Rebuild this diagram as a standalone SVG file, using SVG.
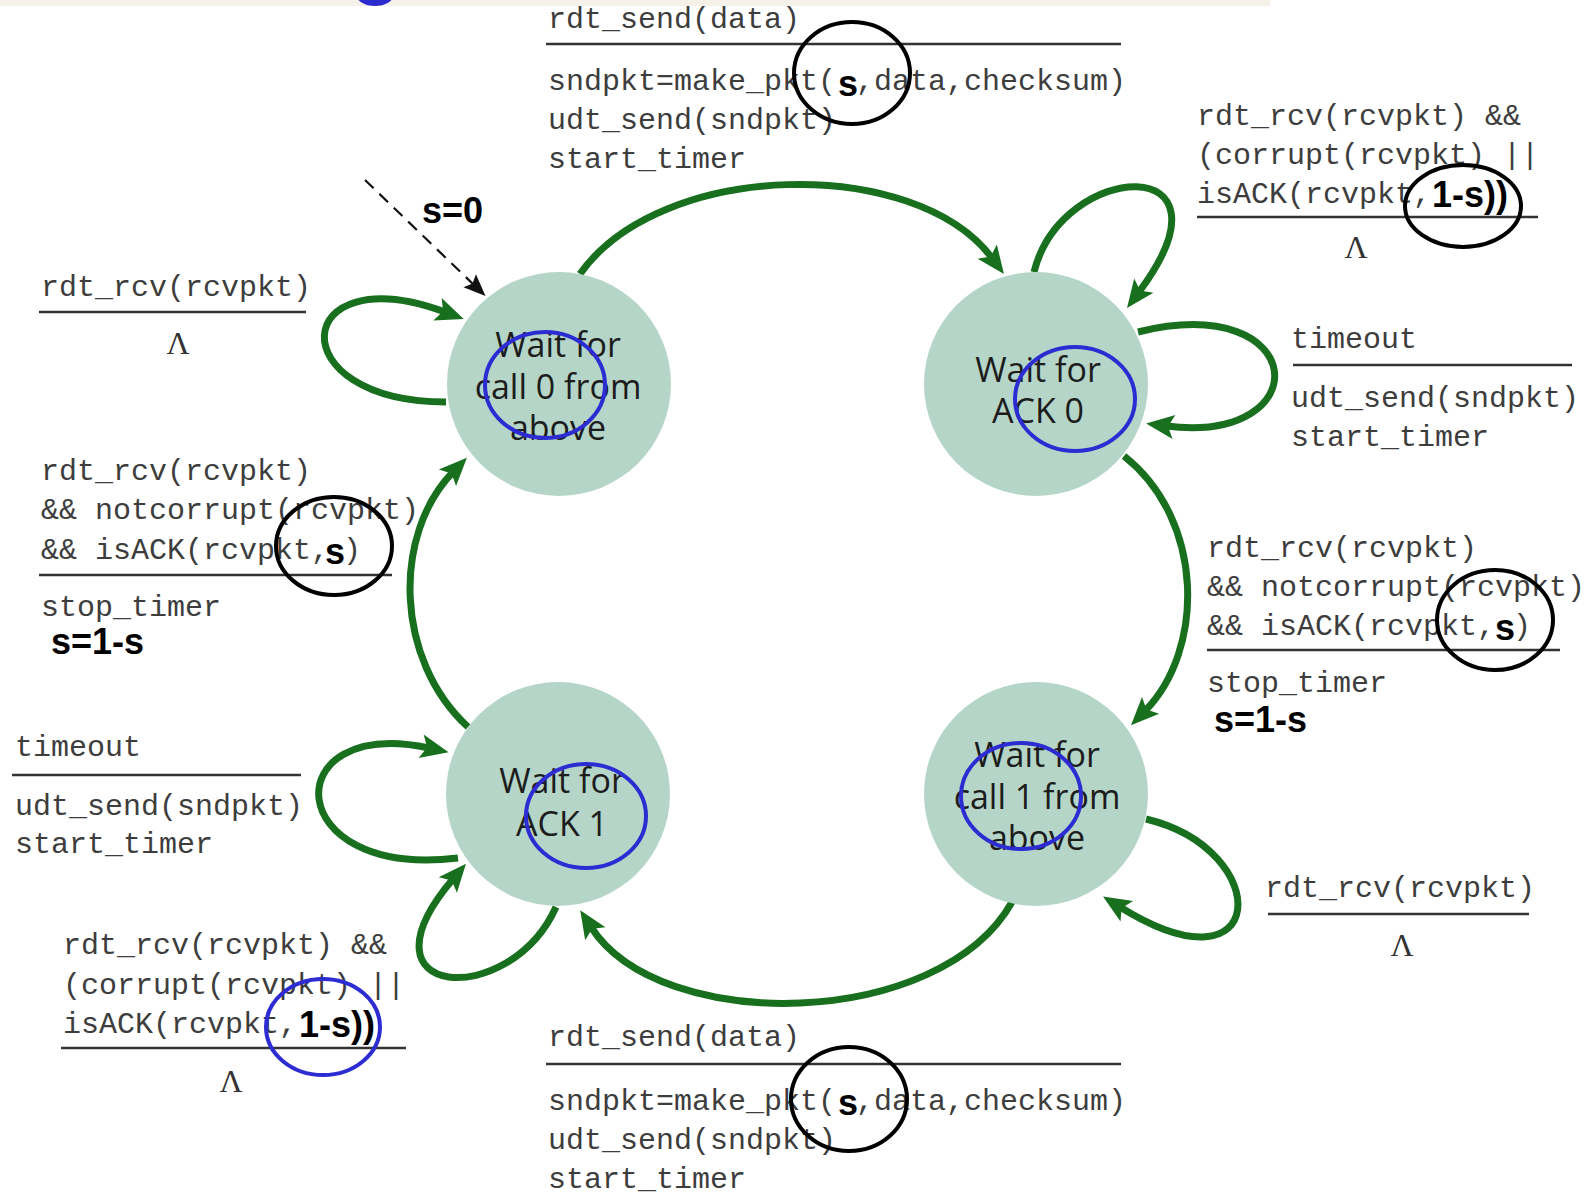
<svg xmlns="http://www.w3.org/2000/svg" width="1590" height="1194" viewBox="0 0 1590 1194">
  <style>
    .mono { font-family: "Liberation Mono", "Courier New", monospace; font-size: 30px; fill: #3d3d3d; }
    .bold { font-family: "Liberation Sans", Arial, sans-serif; font-weight: bold; font-size: 36px; fill: #000; }
    .lam { font-family: "Liberation Serif", "Times New Roman", serif; font-size: 32px; fill: #333; text-anchor: middle; }
    .rule { stroke: #333; stroke-width: 2.5; }
    .state { fill: #b4d5c7; }
    .state-text { font-family: "Open Sans", "Noto Sans", sans-serif; font-size: 34px; fill: #1c1c1c; text-anchor: middle; }
    .edge { fill: none; stroke: #18701f; stroke-width: 7; marker-end: url(#arrow); }
    .init { fill: none; stroke: #111; stroke-width: 2.2; stroke-dasharray: 12 8; marker-end: url(#arrow-init); }
    .mark-black { fill: none; stroke: #000; stroke-width: 4; }
    .mark-blue { fill: none; stroke: #2c2cd2; stroke-width: 4; }
  </style>
  <defs>
    <marker id="arrow" markerUnits="userSpaceOnUse" markerWidth="30" markerHeight="26" refX="8" refY="12" orient="auto" overflow="visible">
      <path d="M0,0 L28,12 L0,24 L6,12 z" fill="#18701f"/>
    </marker>
    <marker id="arrow-init" markerUnits="userSpaceOnUse" markerWidth="24" markerHeight="20" refX="6" refY="9" orient="auto" overflow="visible">
      <path d="M0,0 L22,9 L0,18 L4,9 z" fill="#111"/>
    </marker>
  </defs>

  <rect x="0" y="0" width="1590" height="1194" fill="#fff"/>
  <!-- header strip remnant -->
  <rect x="0" y="0" width="1270" height="6" fill="#f6f1e8"/>
  <ellipse cx="375" cy="-6" rx="19" ry="12" fill="#2b2bd0"/>

  <!-- transitions -->
  <g id="connectors">
    <path class="edge" d="M580 274 C660 160 915 155 992 258"/>
    <path class="edge" d="M1124 456 C1205 520 1205 650 1145 711"/>
    <path class="edge" d="M1012 902 C940 1030 660 1035 591 927"/>
    <path class="edge" d="M468 727 C395 660 392 535 453 472"/>
    <path class="edge" d="M446 402 C278 402 290 255 445 312"/>
    <path class="edge" d="M1034 272 C1062 160 1245 150 1139 292"/>
    <path class="edge" d="M1138 332 C1310 290 1320 445 1166 426"/>
    <path class="edge" d="M458 858 C280 880 275 715 429 748"/>
    <path class="edge" d="M556 907 C510 1010 350 1000 453 879"/>
    <path class="edge" d="M1146 819 C1275 850 1270 1000 1120 907"/>
    <path class="init" d="M365 180 L474 285"/>
  </g>

  <!-- states -->
  <g id="wait-call0">
    <circle class="state" cx="559" cy="384" r="112"/>
    <text class="state-text" x="558" y="357">Wait for</text>
    <text class="state-text" x="558" y="399">call 0 from</text>
    <text class="state-text" x="558" y="440">above</text>
  </g>
  <g id="wait-ack0">
    <circle class="state" cx="1036" cy="384" r="112"/>
    <text class="state-text" x="1038" y="382">Wait for</text>
    <text class="state-text" x="1038" y="423">ACK 0</text>
  </g>
  <g id="wait-ack1">
    <circle class="state" cx="558" cy="794" r="112"/>
    <text class="state-text" x="562" y="793">Wait for</text>
    <text class="state-text" x="562" y="836">ACK 1</text>
  </g>
  <g id="wait-call1">
    <circle class="state" cx="1036" cy="794" r="112"/>
    <text class="state-text" x="1037" y="767">Wait for</text>
    <text class="state-text" x="1037" y="809">call 1 from</text>
    <text class="state-text" x="1037" y="850">above</text>
  </g>

  <!-- transition labels -->
  <g id="label-send0">
    <text class="mono" x="548" y="28">rdt_send(data)</text>
    <line class="rule" x1="546" y1="44" x2="1121" y2="44"/>
    <text class="mono" x="548" y="90">sndpkt=make_pkt(</text>
    <text class="bold" x="838" y="96">s</text>
    <text class="mono" x="856" y="90">,data,checksum)</text>
    <text class="mono" x="548" y="129">udt_send(sndpkt)</text>
    <text class="mono" x="548" y="168">start_timer</text>
  </g>
  <g id="label-ack0-wrong">
    <text class="mono" x="1197" y="125">rdt_rcv(rcvpkt) &amp;&amp;</text>
    <text class="mono" x="1197" y="164">(corrupt(rcvpkt) ||</text>
    <text class="mono" x="1197" y="203">isACK(rcvpkt,</text>
    <text class="bold" x="1432" y="207">1-s))</text>
    <line class="rule" x1="1197" y1="217" x2="1538" y2="217"/>
    <text class="lam" x="1356" y="258">Λ</text>
  </g>
  <g id="label-call0-rcv">
    <text class="mono" x="41" y="296">rdt_rcv(rcvpkt)</text>
    <line class="rule" x1="39" y1="312" x2="306" y2="312"/>
    <text class="lam" x="178" y="354">Λ</text>
  </g>
  <g id="label-init">
    <text class="bold" x="422" y="223">s=0</text>
  </g>
  <g id="label-ack1-ok">
    <text class="mono" x="41" y="480">rdt_rcv(rcvpkt)</text>
    <text class="mono" x="41" y="519">&amp;&amp; notcorrupt(rcvpkt)</text>
    <text class="mono" x="41" y="559">&amp;&amp; isACK(rcvpkt,</text>
    <text class="bold" x="325" y="564">s</text>
    <text class="mono" x="343" y="559">)</text>
    <line class="rule" x1="39" y1="575" x2="392" y2="575"/>
    <text class="mono" x="41" y="616">stop_timer</text>
    <text class="bold" x="51" y="654">s=1-s</text>
  </g>
  <g id="label-ack1-timeout">
    <text class="mono" x="15" y="756">timeout</text>
    <line class="rule" x1="12" y1="775" x2="301" y2="775"/>
    <text class="mono" x="15" y="815">udt_send(sndpkt)</text>
    <text class="mono" x="15" y="853">start_timer</text>
  </g>
  <g id="label-ack1-wrong">
    <text class="mono" x="63" y="954">rdt_rcv(rcvpkt) &amp;&amp;</text>
    <text class="mono" x="63" y="994">(corrupt(rcvpkt) ||</text>
    <text class="mono" x="63" y="1033">isACK(rcvpkt,</text>
    <text class="bold" x="299" y="1037">1-s))</text>
    <line class="rule" x1="61" y1="1048" x2="406" y2="1048"/>
    <text class="lam" x="231" y="1092">Λ</text>
  </g>
  <g id="label-send1">
    <text class="mono" x="548" y="1046">rdt_send(data)</text>
    <line class="rule" x1="546" y1="1064" x2="1121" y2="1064"/>
    <text class="mono" x="548" y="1110">sndpkt=make_pkt(</text>
    <text class="bold" x="838" y="1115">s</text>
    <text class="mono" x="856" y="1110">,data,checksum)</text>
    <text class="mono" x="548" y="1149">udt_send(sndpkt)</text>
    <text class="mono" x="548" y="1188">start_timer</text>
  </g>
  <g id="label-ack0-timeout">
    <text class="mono" x="1291" y="348">timeout</text>
    <line class="rule" x1="1293" y1="365" x2="1572" y2="365"/>
    <text class="mono" x="1291" y="407">udt_send(sndpkt)</text>
    <text class="mono" x="1291" y="446">start_timer</text>
  </g>
  <g id="label-ack0-ok">
    <text class="mono" x="1207" y="557">rdt_rcv(rcvpkt)</text>
    <text class="mono" x="1207" y="596">&amp;&amp; notcorrupt(rcvpkt)</text>
    <text class="mono" x="1207" y="635">&amp;&amp; isACK(rcvpkt,</text>
    <text class="bold" x="1495" y="640">s</text>
    <text class="mono" x="1513" y="635">)</text>
    <line class="rule" x1="1207" y1="650" x2="1560" y2="650"/>
    <text class="mono" x="1207" y="692">stop_timer</text>
    <text class="bold" x="1214" y="732">s=1-s</text>
  </g>
  <g id="label-call1-rcv">
    <text class="mono" x="1265" y="897">rdt_rcv(rcvpkt)</text>
    <line class="rule" x1="1268" y1="914" x2="1529" y2="914"/>
    <text class="lam" x="1402" y="956">Λ</text>
  </g>

  <!-- hand-drawn highlight rings -->
  <g id="highlights">
    <ellipse class="mark-black" cx="852" cy="73" rx="58" ry="51"/>
    <ellipse class="mark-black" cx="1463" cy="206" rx="58" ry="41"/>
    <ellipse class="mark-black" cx="334" cy="546" rx="58" ry="49"/>
    <ellipse class="mark-black" cx="1495" cy="620" rx="58" ry="50"/>
    <ellipse class="mark-black" cx="849" cy="1099" rx="58" ry="52"/>
    <ellipse class="mark-blue" cx="545" cy="385" rx="60" ry="53"/>
    <ellipse class="mark-blue" cx="1075" cy="399" rx="60" ry="52"/>
    <ellipse class="mark-blue" cx="586" cy="816" rx="60" ry="52"/>
    <ellipse class="mark-blue" cx="1021" cy="796" rx="60" ry="53"/>
    <ellipse class="mark-blue" cx="323" cy="1027" rx="57" ry="48"/>
  </g>
</svg>
